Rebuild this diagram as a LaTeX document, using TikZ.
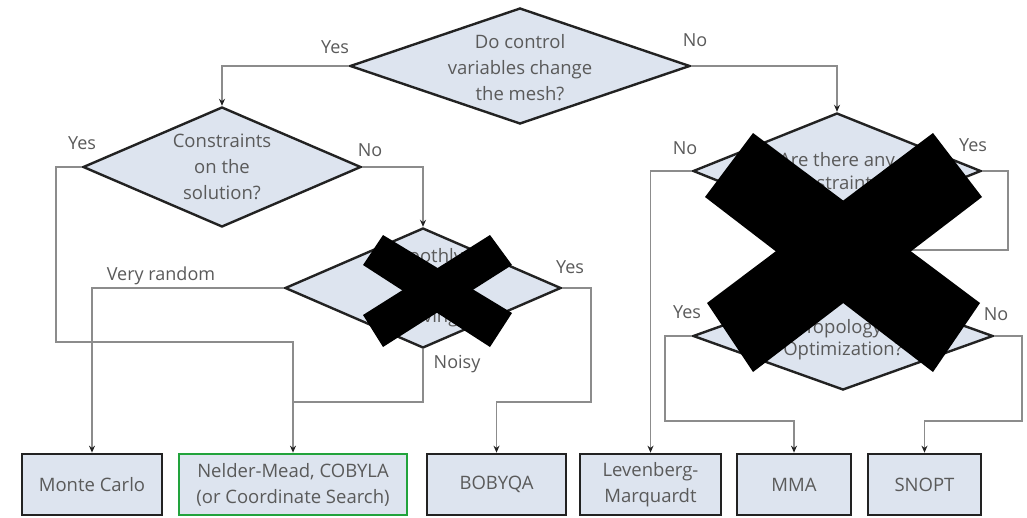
\documentclass[tikz,border=0pt]{standalone}
\usepackage{fontspec}
\setmainfont{Open Sans}
\usetikzlibrary{shapes.geometric,arrows.meta}
\definecolor{fillc}{HTML}{DDE4EF}
\definecolor{txt}{HTML}{5A5A5A}
\definecolor{linec}{HTML}{8C8C8C}
\definecolor{edgec}{HTML}{222222}
\definecolor{grn}{HTML}{22A33C}
\begin{document}
\begin{tikzpicture}[x=1pt,y=-1pt,
 dec/.style={diamond, draw=edgec, line width=2.4pt, fill=fillc, inner sep=0pt},
 dtext/.style={text=txt, align=center, inner sep=0pt, font=\fontsize{18.5}{26}\selectfont},
 box/.style={rectangle, draw=edgec, line width=2.7pt, fill=fillc, inner sep=0pt, text=txt, align=center, minimum height=61pt, font=\fontsize{18.5}{26}\selectfont},
 wire/.style={draw=linec, line width=1.2pt},
 conn/.style={wire, -{Stealth[length=7pt,width=6pt,color=edgec]}},
 lbl/.style={text=txt, font=\fontsize{18}{20}\selectfont, inner sep=0pt},
 bar/.style={fill=black, draw=none}]
\useasboundingbox (0,0) rectangle (1027,517);
\fill[white] (0,0) rectangle (1027,517);
% decisions
\node[dec, minimum width=340pt, minimum height=116pt] (q1) at (520,66) {};
\node[dtext] (q1t) at (520,68) {Do control\\variables change\\the mesh?};
\node[dec, minimum width=278pt, minimum height=120pt] (q2) at (222,167) {};
\node[dtext] (q2t) at (222,167) {Constraints\\on the\\solution?};
\node[dec, minimum width=276pt, minimum height=120pt] (q3) at (423,288) {};
\node[dtext, font=\fontsize{18.5}{60}\selectfont] (q3t) at (423,288) {smoothly\\behaving?};
\node[dec, minimum width=288pt, minimum height=116pt] (q4) at (837,171) {};
\node[dtext, font=\fontsize{18.5}{23}\selectfont] (q4t) at (837,171) {Are there any\\constraints?};
\node[dec, minimum width=300pt, minimum height=108pt] (q5) at (843,336) {};
\node[dtext, font=\fontsize{18.5}{22}\selectfont] (q5t) at (843,340) {Topology\\Optimization?};
% results
\node[box, minimum width=140pt] (mc) at (92,484.5) {Monte Carlo};
\node[box, draw=grn, minimum width=228pt] (nm) at (293,484.5) {Nelder-Mead, COBYLA\\(or Coordinate Search)};
\node[box, minimum width=139pt] (bq) at (496.5,484.5) {BOBYQA};
\node[box, minimum width=141pt] (lv) at (650.5,484.5) {Levenberg-\\Marquardt};
\node[box, minimum width=114pt] (mma) at (794,484.5) {MMA};
\node[box, minimum width=113pt] (sn) at (924.5,484.5) {SNOPT};
% bend points
\coordinate (y2) at (56,342);
\coordinate (j1) at (293,402);
\coordinate (c3) at (591,402);
\coordinate (c4) at (1008,250);
\coordinate (c5) at (665,421);
\coordinate (c6) at (1022,421);
% connectors
\draw[conn] (q1.west) -| (q2.north);
\draw[conn] (q1.east) -| (q4.north);
\draw[conn] (q2.east) -| (q3.north);
\draw[conn] (q2.west) -| (y2) -| (nm.north);
\draw[wire] (q3.south) |- (j1);
\draw[conn] (q3.west) -| (mc.north);
\draw[conn] (q3.east) -| (c3) -| (bq.north);
\draw[conn] (q4.west) -| (lv.north);
\draw[conn] (q4.east) -| (c4) -| (q5.north);
\draw[conn] (q5.west) -| (c5) -| (mma.north);
\draw[conn] (q5.east) -| (c6) -| (sn.north);
% labels
\node[lbl] (l1) at (335,47) {Yes};
\node[lbl] (l2) at (695,40) {No};
\node[lbl] (l3) at (82,143) {Yes};
\node[lbl] (l4) at (370,150) {No};
\node[lbl] (l5) at (161,276) {Very random};
\node[lbl] (l6) at (570,267) {Yes};
\node[lbl] (l7) at (457,364) {Noisy};
\node[lbl] (l8) at (685,148) {No};
\node[lbl] (l9) at (973,145) {Yes};
\node[lbl] (l10) at (687,312) {Yes};
\node[lbl] (l11) at (996,314) {No};
% crosses
\fill[bar] (363,265) -- (383,235) -- (512,313) -- (490,347) -- cycle;
\fill[bar] (490,235) -- (512,265) -- (383,347) -- (363,315) -- cycle;
\fill[bar] (705,197) -- (753,133) -- (980,303) -- (933,372) -- cycle;
\fill[bar] (933,133) -- (982,197) -- (753,372) -- (707,303) -- cycle;
\end{tikzpicture}
\end{document}
